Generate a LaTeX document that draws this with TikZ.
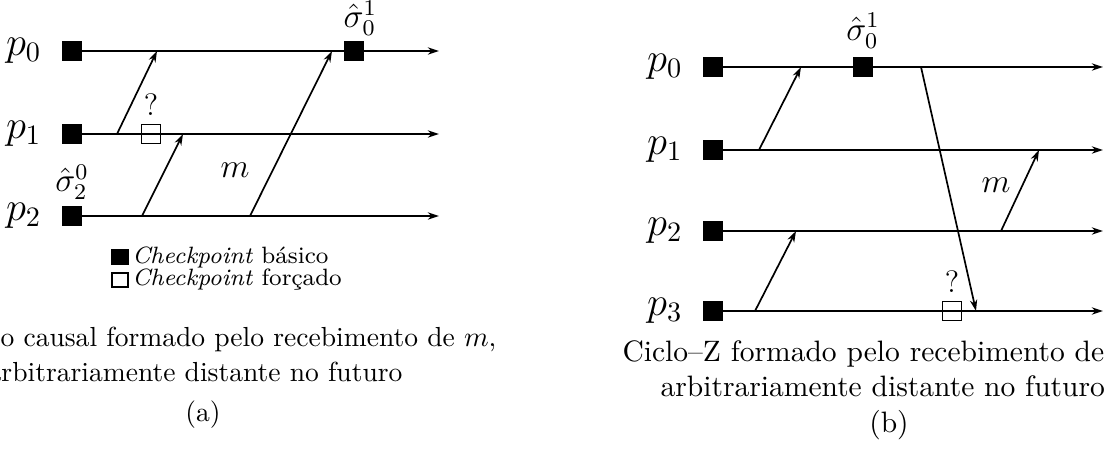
\documentclass[tikz,border=0pt]{standalone}
\usepackage{amsmath,amssymb}
\usetikzlibrary{arrows.meta,positioning}

\begin{document}
\begin{tikzpicture}[
  x=0.0125cm, y=-0.0125cm,
  node distance=0.25cm,
  ckpt/.style={rectangle, draw, fill=black, minimum size=0.235cm, inner sep=0pt},
  forced/.style={rectangle, draw, line width=0.6pt, minimum size=0.235cm, inner sep=0pt},
  proc/.style={font=\Large, inner sep=0pt},
  sig/.style={font=\large, inner sep=0pt},
  quest/.style={font=\fontsize{11}{13}\selectfont, inner sep=0pt},
  timeline/.style={-{Stealth[length=4pt, width=2.6pt]}, line width=0.6pt},
  msg/.style={-{Stealth[length=4pt, width=2.6pt]}, line width=0.6pt},
  legend/.style={font=\fontsize{8.4}{10}\selectfont, inner sep=0pt},
  capa/.style={font=\fontsize{9.8}{12}\selectfont, inner sep=0pt},
  capb/.style={font=\fontsize{10.5}{13}\selectfont, inner sep=0pt}
]
\useasboundingbox (0,0) rectangle (1104,452);

%% (a) processes
\node[ckpt] (a0) at (72,51) {};
\node[ckpt] (a1) at (72,134) {};
\node[ckpt] (a2) at (72,216) {};
\node[proc, left=of a0] (pa0) {$p_0$};
\node[proc, left=of a1] (pa1) {$p_1$};
\node[proc, left=of a2] (pa2) {$p_2$};
\coordinate (a0end) at (439,51);
\coordinate (a1end) at (439,134);
\coordinate (a2end) at (439,216);
\draw[timeline] (a0) -- (a0end);
\draw[timeline] (a1) -- (a1end);
\draw[timeline] (a2) -- (a2end);

%% (a) checkpoints
\node[ckpt] (sa01) at (354,51) {};
\node[sig, above=0.06cm of sa01, xshift=0.08cm] (lsa01) {$\hat{\sigma}_0^1$};
\node[sig, above=0.07cm of a2] (lsa20) {$\hat{\sigma}_2^0$};
\node[forced] (fa) at (151,134) {};
\node[quest, above=0.1cm of fa] (qa) {?};

%% (a) messages
\coordinate (a1s1) at (117,134);
\coordinate (a0r1) at (157,51);
\coordinate (a2s1) at (142,216);
\coordinate (a1r1) at (183,134);
\coordinate (a2s2) at (250,216);
\coordinate (a0r2) at (332,51);
\draw[msg] (a1s1) -- (a0r1);
\draw[msg] (a2s1) -- (a1r1);
\draw[msg] (a2s2) -- (a0r2);
\node[font=\large, inner sep=0pt] (ma) at (235,170) {$m$};

%% (a) legend
\node[ckpt, minimum width=0.2cm, minimum height=0.175cm] (kb) at (120,257) {};
\node[forced, line width=0.5pt, minimum width=0.2cm, minimum height=0.175cm] (kf) at (120,280) {};
\node[legend, right=0.04cm of kb] (lkb) {\textit{Checkpoint} básico};
\node[legend, right=0.04cm of kf] (lkf) {\textit{Checkpoint} forçado};

%% (a) caption
\node[capa, anchor=base west] (capa1) at (0,347) {o causal formado pelo recebimento de $m$,};
\node[capa, anchor=base east] (capa2) at (403,382) {arbitrariamente distante no futuro};
\node[capa, anchor=base] (capa3) at (203,422) {(a)};

%% (b) processes
\node[ckpt] (b0) at (713,67) {};
\node[ckpt] (b1) at (713,150) {};
\node[ckpt] (b2) at (713,231) {};
\node[ckpt] (b3) at (713,311) {};
\node[proc, left=of b0] (pb0) {$p_0$};
\node[proc, left=of b1] (pb1) {$p_1$};
\node[proc, left=of b2] (pb2) {$p_2$};
\node[proc, left=of b3] (pb3) {$p_3$};
\coordinate (b0end) at (1103,67);
\coordinate (b1end) at (1103,150);
\coordinate (b2end) at (1103,231);
\coordinate (b3end) at (1103,311);
\draw[timeline] (b0) -- (b0end);
\draw[timeline] (b1) -- (b1end);
\draw[timeline] (b2) -- (b2end);
\draw[timeline] (b3) -- (b3end);

%% (b) checkpoints
\node[ckpt] (sb01) at (863,67) {};
\node[sig, above=0.1cm of sb01] (lsb01) {$\hat{\sigma}_0^1$};
\node[forced] (fb) at (952,311) {};
\node[quest, above=0.1cm of fb] (qb) {?};

%% (b) messages
\coordinate (b1s1) at (759,150);
\coordinate (b0r1) at (801,67);
\coordinate (b3s1) at (755,311);
\coordinate (b2r1) at (796,231);
\coordinate (b0s1) at (921,67);
\coordinate (b3r1) at (976,311);
\coordinate (b2s2) at (1001,231);
\coordinate (b1r2) at (1039,150);
\draw[msg] (b1s1) -- (b0r1);
\draw[msg] (b3s1) -- (b2r1);
\draw[msg] (b0s1) -- (b3r1);
\draw[msg] (b2s2) -- (b1r2);
\node[font=\large, inner sep=0pt] (mb) at (996,185) {$m$};

%% (b) caption
\node[capb, anchor=base west] (capb1) at (622,362) {Ciclo--Z formado pelo recebimento de};
\node[capb, anchor=base west] (capb2) at (660,397) {arbitrariamente distante no futuro};
\node[capb, anchor=base] (capb3) at (889,433) {(b)};
\end{tikzpicture}
\end{document}
